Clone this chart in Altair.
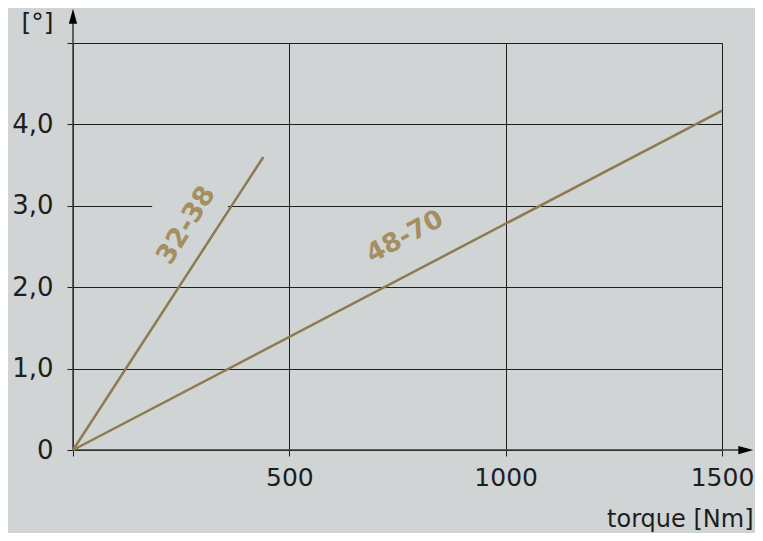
import altair as alt
import pandas as pd

BG = "#d1d4d5"
LINE = "#8c7b50"
LABEL = "#a38f5f"
INK = "#1e1e1e"
FONT = "DejaVu Sans"

# series: straight lines from origin
series_names = ["32-38", "48-70"]
torque_end = [440, 1500]
angle_end = [3.6, 4.17]

# in-plot series labels
label_text = ["32-38", "48-70"]
label_x = [262, 767]
label_y = [2.76, 2.62]
label_angle = [302, 332]
label_size = [27, 26]

# ticks
x_ticks = [0, 500, 1000, 1500]
y_ticks = [0, 1, 2, 3, 4, 5]

# gap in 3,0 grid line behind the "32-38" label
gap_x = [183, 358]
gap_y = [2.96, 3.04]

# axis arrows (extend beyond the plot domain)
x_arrow = 1555
y_arrow = 5.33

rows = []
for name, xe, ye in zip(series_names, torque_end, angle_end):
    rows.append({"series": name, "torque": 0, "angle": 0})
    rows.append({"series": name, "torque": xe, "angle": ye})
lines_df = pd.DataFrame(rows)

labels_df = pd.DataFrame({"text": label_text, "x": label_x, "y": label_y,
                          "angle": label_angle, "size": label_size})
gap_df = pd.DataFrame({"x": [gap_x[0]], "x2": [gap_x[1]], "y": [gap_y[0]], "y2": [gap_y[1]]})
axes_df = pd.DataFrame({"x": [0, 0], "x2": [x_arrow, 0], "y": [0, 0], "y2": [0, y_arrow]})
xarr_df = pd.DataFrame({"x": [x_arrow], "y": [0]})
yarr_df = pd.DataFrame({"x": [0], "y": [y_arrow]})

xscale = alt.Scale(domain=[0, 1500], nice=False, zero=False)
yscale = alt.Scale(domain=[0, 5], nice=False, zero=False)

x_axis = alt.Axis(
    values=x_ticks,
    labelExpr="datum.value == 0 ? '' : format(datum.value, 'd')",
    grid=True, gridColor=INK, gridWidth=1, gridOpacity=1,
    ticks=True, tickSize=6, tickColor=INK, tickWidth=1,
    domain=False,
    labelFont=FONT, labelFontSize=25, labelColor=INK, labelPadding=9,
    labelFlush=False,
    title="torque [Nm]", titleFont=FONT, titleFontSize=24, titleFontWeight="normal",
    titleColor=INK, titleAlign="right", titleAnchor="end", titleX=680, titleY=76,
    titleBaseline="alphabetic",
)
y_axis = alt.Axis(
    values=y_ticks,
    labelExpr="datum.value == 5 ? '' : (datum.value == 0 ? '0' : replace(format(datum.value, '.1f'), '.', ','))",
    grid=True, gridColor=INK, gridWidth=1, gridOpacity=1,
    ticks=True, tickSize=6, tickColor=INK, tickWidth=1,
    domain=False,
    labelFont=FONT, labelFontSize=26, labelColor=INK, labelPadding=14,
    labelBaseline="middle", labelFlush=False,
    title="[°]", titleFont=FONT, titleFontSize=25, titleFontWeight="normal",
    titleColor=INK, titleAngle=0, titleAlign="right", titleBaseline="middle",
    titleX=-20, titleY=-21,
)

base_grid = alt.Chart(gap_df).mark_rect(color=BG).encode(
    x=alt.X("x:Q", scale=xscale, axis=x_axis),
    x2="x2:Q",
    y=alt.Y("y:Q", scale=yscale, axis=y_axis),
    y2="y2:Q",
)

axis_lines = alt.Chart(axes_df).mark_rule(color="#3a3a3a", strokeWidth=1.5, clip=False).encode(
    x="x:Q", x2="x2:Q", y="y:Q", y2="y2:Q"
)

x_head = alt.Chart(xarr_df).mark_point(
    shape="M1,0L-1,-0.55L-1,0.55Z", size=225, filled=True, color="#000000", opacity=1, clip=False
).encode(x="x:Q", y="y:Q")
y_head = alt.Chart(yarr_df).mark_point(
    shape="M0,-1L0.55,1L-0.55,1Z", size=225, filled=True, color="#000000", opacity=1, clip=False
).encode(x="x:Q", y="y:Q")

lines = alt.Chart(lines_df).mark_line(color=LINE, strokeWidth=2.5).encode(
    x="torque:Q", y="angle:Q", detail="series:N"
)

labels = alt.Chart(labels_df).mark_text(
    font=FONT, fontWeight="bold", color=LABEL, align="center", baseline="middle"
).encode(
    x="x:Q", y="y:Q", text="text:N",
    angle=alt.Angle("angle:Q", scale=None),
    size=alt.Size("size:Q", scale=None, legend=None),
)

chart = alt.layer(base_grid, axis_lines, lines, labels, x_head, y_head).properties(
    width=649, height=407,
    background=BG,
    autosize=alt.AutoSizeParams(type="none"),
    padding={"left": 65, "top": 35, "right": 33, "bottom": 83},
).configure_view(stroke=None)

chart.save("out.html", embed_options={"renderer": "svg", "actions": False})
